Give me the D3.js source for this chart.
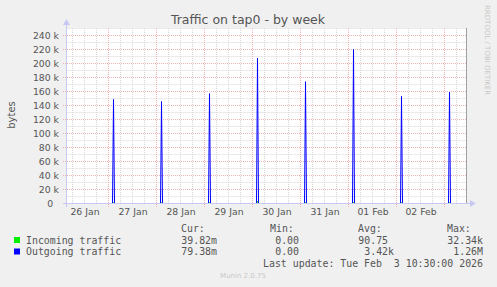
<!DOCTYPE html>
<html>
<head>
<meta charset="utf-8">
<script src="https://cdn.jsdelivr.net/npm/d3@7"></script>
<style>
  body { margin: 0; background: #f0f0f0; }
  svg { display: block; }
  text { fill: #555; white-space: pre; }
</style>
</head>
<body>
<div id="chart"></div>
<script>
// chart data
var spikeTimes = ["2026-01-27T02:30", "2026-01-28T02:30", "2026-01-29T02:30", "2026-01-30T02:30",
                  "2026-01-31T02:30", "2026-02-01T02:30", "2026-02-02T02:30", "2026-02-03T02:30"];
var outgoingPeaks = [148600, 145700, 157000, 207600, 174000, 220000, 153000, 159000];
var incomingPeaks = [1200, 1000, 1500, 3200, 1400, 2200, 1100, 1300];
var yTicks = [0, 20000, 40000, 60000, 80000, 100000, 120000, 140000, 160000, 180000, 200000, 220000, 240000];
var dayLabels = ["26 Jan", "27 Jan", "28 Jan", "29 Jan", "30 Jan", "31 Jan", "01 Feb", "02 Feb"];
var seriesNames = ["Incoming traffic", "Outgoing traffic"];
var seriesColors = ["#00ee00", "#0000ff"];
var curValues = ["39.82m", "79.38m"];
var minValues = ["0.00", "0.00"];
var avgValues = ["90.75 ", " 3.42k"];
var maxValues = ["32.34k", " 1.26M"];

var svgWidth = 497;
var svgHeight = 287;
var parse = d3.timeParse("%Y-%m-%dT%H:%M");
var tStart = parse("2026-01-26T03:00");
var tEnd = parse("2026-02-03T11:00");

var svg = d3.select("#chart")
  .append("svg")
  .attr("width", svgWidth)
  .attr("height", svgHeight);

svg.append("rect").attr("width", svgWidth).attr("height", svgHeight).attr("fill", "#f0f0f0");

var x = d3.scaleTime().domain([tStart, tEnd]).range([66.5, 466.5]);
var y = d3.scaleLinear().domain([0, 250000]).range([203.5, 28.5]);

// plot background
svg.append("rect")
  .attr("x", 67).attr("y", 28)
  .attr("width", 400).attr("height", 175)
  .attr("fill", "#ffffff");

// grid
var minorY = d3.range(0, 250001, 10000);
svg.append("g").selectAll("line")
  .data(minorY.filter(d => d % 20000 != 0))
  .enter().append("line")
  .attr("x1", 66.5).attr("x2", 466.5)
  .attr("y1", d => y(d)).attr("y2", d => y(d))
  .attr("stroke", "#d6d6d6").attr("stroke-dasharray", "1,1");

var minorX = d3.timeHour.every(6).range(tStart, tEnd).filter(d => d.getHours() != 0);
svg.append("g").selectAll("line")
  .data(minorX)
  .enter().append("line")
  .attr("x1", d => x(d)).attr("x2", d => x(d))
  .attr("y1", 28).attr("y2", 203)
  .attr("stroke", "#d6d6d6").attr("stroke-dasharray", "1,1");

svg.append("g").selectAll("line")
  .data(yTicks.filter(d => d > 0))
  .enter().append("line")
  .attr("x1", 63).attr("x2", 466.5)
  .attr("y1", d => y(d)).attr("y2", d => y(d))
  .attr("stroke", "#ecb4b4").attr("stroke-dasharray", "1,1");

var days = d3.timeDay.range(tStart, tEnd);
svg.append("g").selectAll("line")
  .data(days)
  .enter().append("line")
  .attr("x1", d => x(d)).attr("x2", d => x(d))
  .attr("y1", 28).attr("y2", 207)
  .attr("stroke", "#ecb4b4").attr("stroke-dasharray", "1,1");

// build the series from the spike arrays
function buildSeries(peaks) {
  var pts = [{t: tStart, v: 0}];
  spikeTimes.forEach(function(s, i) {
    var t = parse(s);
    pts.push({t: d3.timeMinute.offset(t, -30), v: 0});
    pts.push({t: t, v: peaks[i]});
    pts.push({t: d3.timeMinute.offset(t, 30), v: 0});
  });
  pts.push({t: tEnd, v: 0});
  return pts;
}

var line = d3.line().x(d => x(d.t)).y(d => y(d.v));

svg.append("path")
  .datum(buildSeries(incomingPeaks))
  .attr("d", line)
  .attr("fill", "none")
  .attr("stroke", seriesColors[0]);

svg.append("path")
  .datum(buildSeries(outgoingPeaks))
  .attr("d", line)
  .attr("fill", "none")
  .attr("stroke", seriesColors[1]);

// right frame
svg.append("line")
  .attr("x1", 466.5).attr("x2", 466.5).attr("y1", 28).attr("y2", 203)
  .attr("stroke", "#a0a0a0");

// axes lines with arrows
var axisColor = "#c8c8f4";
svg.append("line")
  .attr("x1", 63).attr("x2", 470).attr("y1", 203.5).attr("y2", 203.5)
  .attr("stroke", axisColor);
svg.append("line")
  .attr("x1", 66.5).attr("x2", 66.5).attr("y1", 207).attr("y2", 24)
  .attr("stroke", axisColor);
svg.append("path")
  .attr("d", "M470,200 L476,203.5 L470,207 Z")
  .attr("fill", axisColor);
svg.append("path")
  .attr("d", "M63,25 L66.5,19 L70,25 Z")
  .attr("fill", axisColor);

// axis labels
var leftAxis = d3.axisLeft(y)
  .tickValues(yTicks)
  .tickSize(0)
  .tickPadding(0)
  .tickFormat(d => d == 0 ? "0  " : (d / 1000) + " k");

svg.append("g")
  .attr("transform", "translate(59,0)")
  .call(leftAxis)
  .call(g => g.select(".domain").remove())
  .selectAll("text")
  .attr("xml:space", "preserve")
  .attr("font-family", "DejaVu Sans")
  .attr("font-size", "9.3px")
  .attr("fill", "#555");

var labelTimes = dayLabels.map((d, i) => d3.timeHour.offset(days[0], -12 + 24 * i));
var bottomAxis = d3.axisBottom(x)
  .tickValues(labelTimes)
  .tickSize(0)
  .tickPadding(0)
  .tickFormat((d, i) => dayLabels[i]);

svg.append("g")
  .attr("transform", "translate(0,208)")
  .call(bottomAxis)
  .call(g => g.select(".domain").remove())
  .selectAll("text")
  .attr("font-family", "DejaVu Sans")
  .attr("font-size", "9.3px")
  .attr("fill", "#555");

// titles
svg.append("text")
  .attr("x", 248).attr("y", 23.5)
  .attr("text-anchor", "middle")
  .attr("font-family", "DejaVu Sans")
  .attr("font-size", "12.5px")
  .text("Traffic on tap0 - by week");

svg.append("text")
  .attr("transform", "translate(14.5,115) rotate(-90)")
  .attr("text-anchor", "middle")
  .attr("font-family", "DejaVu Sans")
  .attr("font-size", "10px")
  .text("bytes");

svg.append("text")
  .attr("transform", "translate(485,5) rotate(90)")
  .attr("font-family", "DejaVu Sans")
  .attr("font-size", "7px")
  .style("fill", "#c8c8c8")
  .text("RRDTOOL / TOBI OETIKER");

// legend
var mono = "DejaVu Sans Mono";
var legend = svg.append("g")
  .attr("font-family", mono)
  .attr("font-size", "9.9px");

function legendText(xx, yy, s, anchor) {
  return legend.append("text")
    .attr("xml:space", "preserve")
    .attr("x", xx).attr("y", yy)
    .attr("text-anchor", anchor || "start")
    .text(s);
}

legendText(181, 232, "Cur:");
legendText(270, 232, "Min:");
legendText(358, 232, "Avg:");
legendText(447, 232, "Max:");

seriesNames.forEach(function(name, i) {
  var yy = 243.5 + i * 11.5;
  legend.append("rect")
    .attr("x", 14).attr("y", yy - 6.5)
    .attr("width", 6).attr("height", 6)
    .attr("fill", seriesColors[i]);
  legendText(26, yy, name);
  legendText(217, yy, curValues[i], "end");
  legendText(299, yy, minValues[i], "end");
  legendText(394, yy, avgValues[i], "end");
  legendText(483, yy, maxValues[i], "end");
});

legendText(483, 267, "Last update: Tue Feb  3 10:30:00 2026", "end");

svg.append("text")
  .attr("x", 243).attr("y", 278)
  .attr("text-anchor", "middle")
  .attr("font-family", "DejaVu Sans")
  .attr("font-size", "7px")
  .style("fill", "#c8c8c8")
  .text("Munin 2.0.75");
</script>
</body>
</html>
